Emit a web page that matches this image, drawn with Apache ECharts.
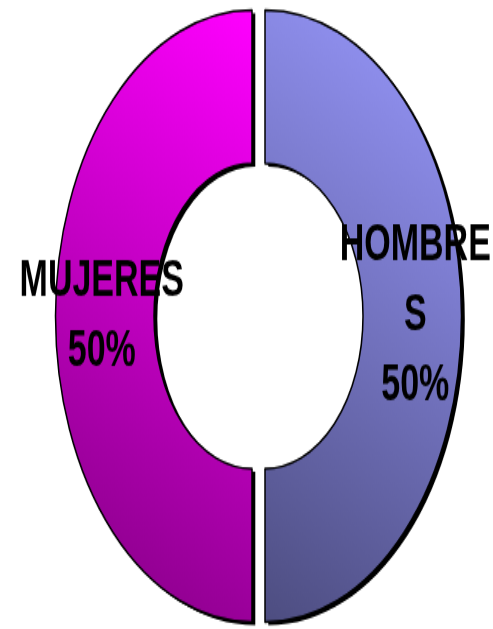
<!DOCTYPE html>
<html>
<head>
<meta charset="utf-8">
<script src="https://cdn.jsdelivr.net/npm/echarts@6/dist/echarts.min.js"></script>
<style>
  html, body { margin: 0; padding: 0; background: #ffffff; overflow: hidden; }
  #wrap { position: absolute; left: 0; top: 0; width: 493px; height: 629px; overflow: hidden; }
  #chart { position: absolute; left: 0; top: 0; width: 493px; height: 404px;
           transform: scaleY(1.557); transform-origin: 0 0; }
</style>
</head>
<body>
<div id="wrap"><div id="chart"></div></div>
<script>
const categories = ['HOMBRES', 'MUJERES'];
const values = [50, 50];
const topColors = ['#9999FF', '#FF00FF'];
const bottomColors = ['#4D4D80', '#800080'];

const chart = echarts.init(document.getElementById('chart'), null, { renderer: 'canvas' });

const data = categories.map((name, i) => ({
  name: name,
  value: values[i],
  selected: true,
  itemStyle: {
    color: new echarts.graphic.LinearGradient(1, 0, 0, 1, [
      { offset: 0, color: topColors[i] },
      { offset: 1, color: bottomColors[i] }
    ])
  }
}));

const shadowData = categories.map((name, i) => ({
  name: name,
  value: values[i],
  selected: true
}));

const common = {
  type: 'pie',
  radius: [98, 196.5],
  startAngle: 90,
  clockwise: true,
  selectedMode: 'multiple',
  selectedOffset: 6.5,
  emphasis: { disabled: true },
  labelLine: { show: false }
};

chart.setOption({
  backgroundColor: '#ffffff',
  animation: false,
  series: [
    Object.assign({}, common, {
      name: 'shadow',
      silent: true,
      z: 1,
      center: [261.8, 205],
      itemStyle: { color: '#000000', borderWidth: 0 },
      label: { show: false },
      data: shadowData
    }),
    Object.assign({}, common, {
      name: 'main',
      z: 2,
      center: [258.5, 203],
      itemStyle: {
        borderColor: '#000000',
        borderWidth: 1.5
      },
      label: {
        show: true,
        position: 'inside',
        formatter: '{b}\n{d}%',
        fontFamily: 'Liberation Sans, Arial, sans-serif',
        fontWeight: 'bold',
        fontSize: 34,
        lineHeight: 45,
        color: '#000000',
        width: 168,
        overflow: 'breakAll',
        align: 'center',
        textBorderWidth: 0,
        textShadowBlur: 0
      },
      data: data
    })
  ]
});
</script>
</body>
</html>
